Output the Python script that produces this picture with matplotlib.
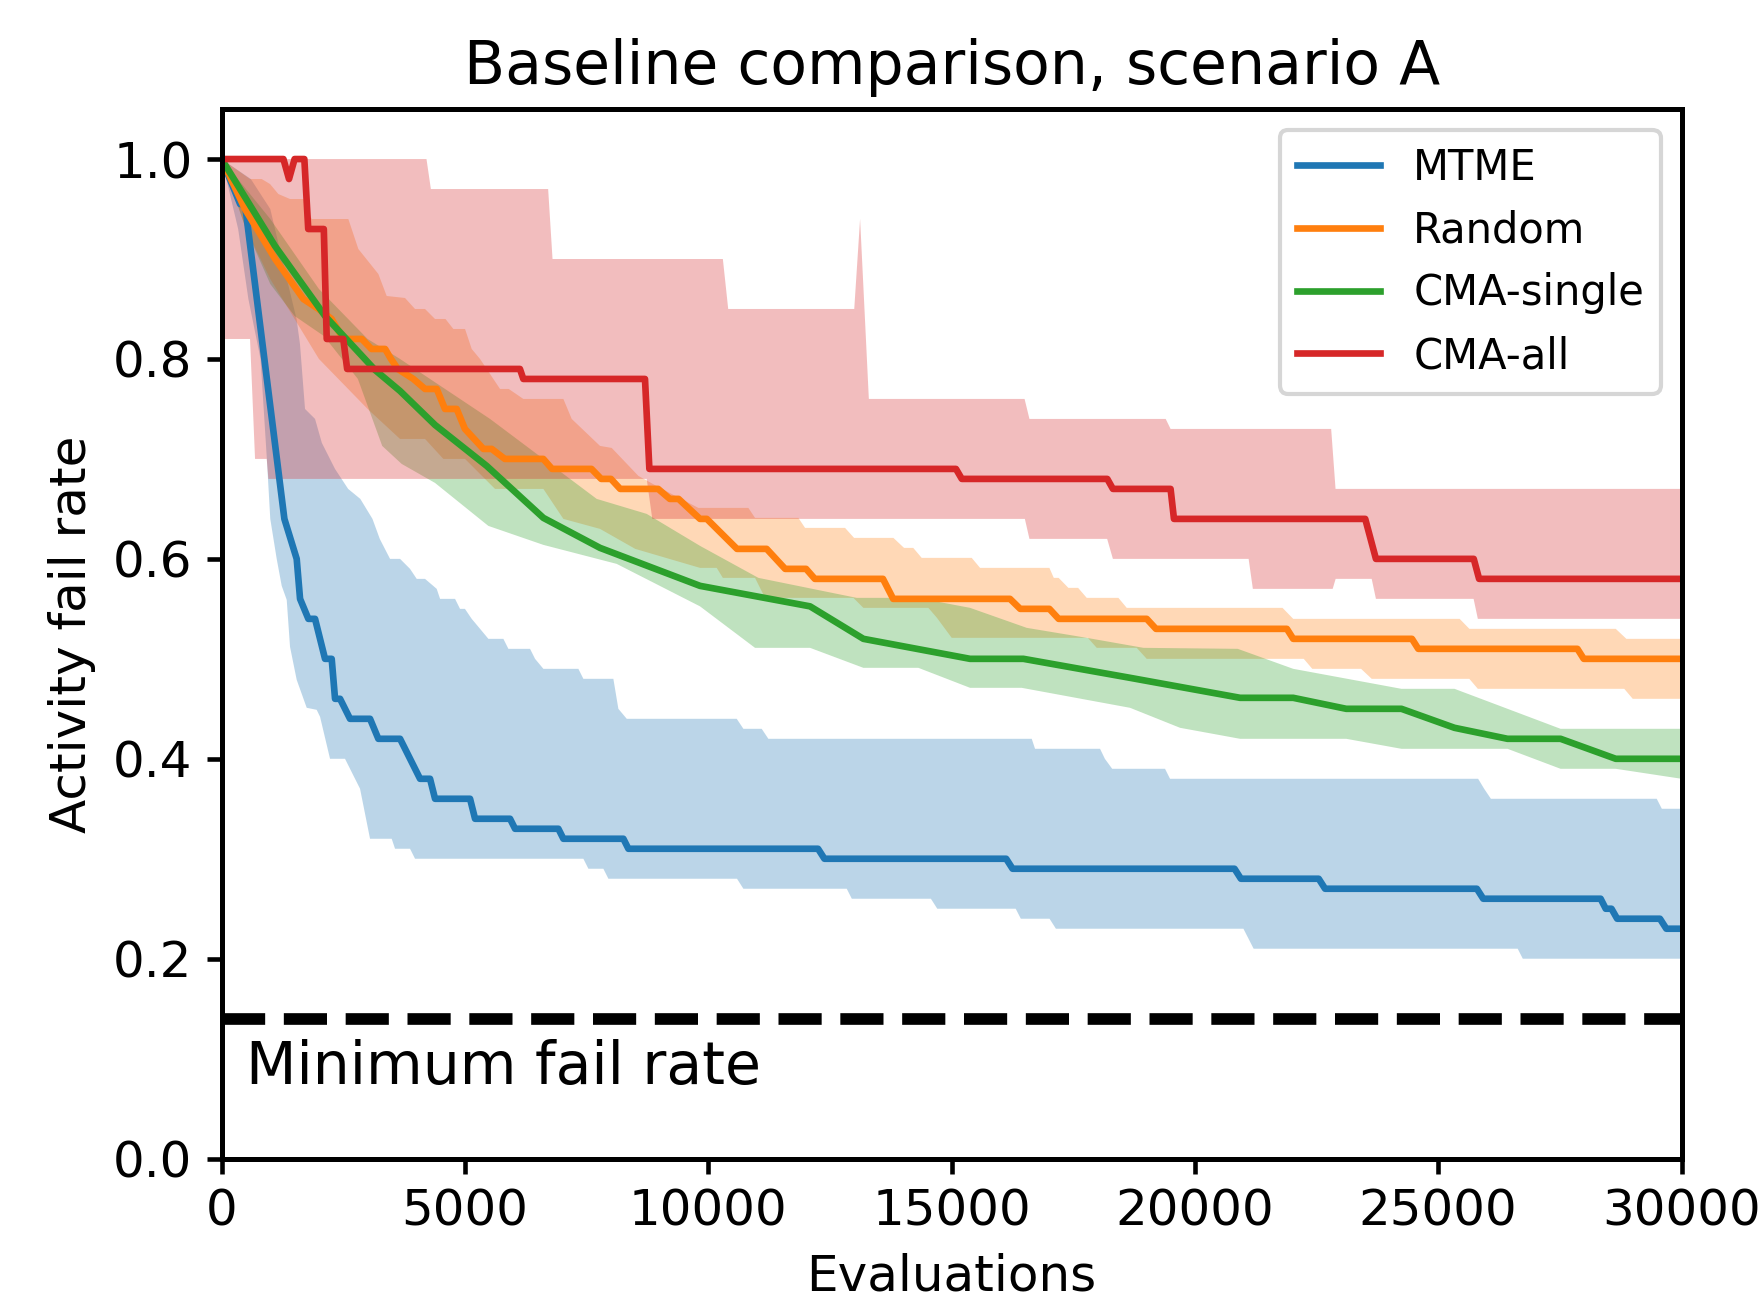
import numpy as np
import matplotlib
matplotlib.use("Agg")
import matplotlib.pyplot as plt

# ---------------- data (evaluations, fail rate) ----------------
mtme_mean = [(0, 1.0), (380, 0.955), (480, 0.955), (1290, 0.64), (1543, 0.60), (1612, 0.56),
             (1783, 0.54), (1920, 0.54), (2125, 0.50), (2262, 0.50), (2331, 0.46), (2434, 0.46),
             (2639, 0.44), (3050, 0.44), (3221, 0.42), (3667, 0.42), (4078, 0.38), (4283, 0.38),
             (4386, 0.36), (5105, 0.36), (5208, 0.34), (5927, 0.34), (6030, 0.33), (6920, 0.33),
             (7023, 0.32), (8256, 0.32), (8359, 0.31), (12256, 0.31), (12387, 0.30), (16122, 0.30),
             (16253, 0.29), (20814, 0.29), (20945, 0.28), (22544, 0.28), (22675, 0.27), (25794, 0.27),
             (25925, 0.26), (28337, 0.26), (28442, 0.25), (28560, 0.25), (28677, 0.24), (29556, 0.24),
             (29687, 0.23), (30000, 0.23)]
mtme_upper = [(0, 1.0), (600, 0.98), (1000, 0.95), (1340, 0.88), (1540, 0.84), (1610, 0.815),
              (1714, 0.75), (1920, 0.74), (2060, 0.716), (2330, 0.69), (2600, 0.67), (2850, 0.66),
              (3100, 0.64), (3250, 0.62), (3461, 0.60), (3667, 0.60), (3872, 0.59), (4009, 0.58),
              (4180, 0.58), (4420, 0.57), (4489, 0.56), (4797, 0.56), (4899, 0.55), (5000, 0.55),
              (5139, 0.54), (5311, 0.53), (5482, 0.52), (5790, 0.52), (5893, 0.51), (6338, 0.51),
              (6441, 0.50), (6612, 0.49), (7331, 0.49), (7434, 0.48), (8050, 0.48), (8153, 0.45),
              (8325, 0.44), (10585, 0.44), (10722, 0.43), (11098, 0.43), (11235, 0.42), (16647, 0.42),
              (16715, 0.41), (18051, 0.41), (18150, 0.40), (18300, 0.39), (19386, 0.39), (19489, 0.38),
              (25820, 0.38), (25944, 0.37), (26082, 0.36), (29490, 0.36), (29595, 0.35), (30000, 0.35)]
mtme_lower = [(0, 1.0), (340, 0.93), (550, 0.86), (800, 0.80), (930, 0.70), (1000, 0.64),
              (1132, 0.60), (1235, 0.573), (1338, 0.559), (1406, 0.512), (1543, 0.479), (1749, 0.451),
              (1954, 0.449), (2023, 0.442), (2228, 0.40), (2536, 0.40), (2845, 0.37), (3050, 0.32),
              (3495, 0.32), (3564, 0.31), (3872, 0.31), (3975, 0.30), (7434, 0.30), (7537, 0.29),
              (7845, 0.29), (7948, 0.28), (10591, 0.28), (10722, 0.27), (12846, 0.27), (12950, 0.26),
              (14575, 0.26), (14706, 0.25), (16318, 0.25), (16423, 0.24), (17013, 0.24), (17144, 0.23),
              (20997, 0.23), (21207, 0.21), (26633, 0.21), (26738, 0.20), (30000, 0.20)]

random_mean = [(0, 1.0), (480, 0.95), (1100, 0.90), (1680, 0.86), (1990, 0.85), (2260, 0.84),
               (2500, 0.82), (2880, 0.82), (3080, 0.81), (3360, 0.81), (3480, 0.80), (3620, 0.79),
               (3940, 0.78), (4180, 0.77), (4420, 0.77), (4590, 0.75), (4830, 0.75), (5000, 0.73),
               (5380, 0.71), (5550, 0.71), (5820, 0.70), (6610, 0.70), (6790, 0.69), (7600, 0.69),
               (7800, 0.68), (8000, 0.68), (8190, 0.67), (8970, 0.67), (9210, 0.66), (9390, 0.66),
               (9830, 0.64), (9970, 0.64), (10590, 0.61), (11200, 0.61), (11580, 0.59), (12010, 0.59),
               (12190, 0.58), (13590, 0.58), (13800, 0.56), (16200, 0.56), (16410, 0.55), (17010, 0.55),
               (17200, 0.54), (19010, 0.54), (19200, 0.53), (21890, 0.53), (22020, 0.52), (24460, 0.52),
               (24590, 0.51), (27860, 0.51), (27990, 0.50), (30000, 0.50)]
random_upper = [(0, 1.0), (584, 0.98), (824, 0.98), (995, 0.975), (1166, 0.965), (1406, 0.96),
                (1680, 0.96), (1851, 0.94), (2604, 0.94), (2810, 0.91), (3221, 0.885), (3392, 0.863),
                (3769, 0.861), (3974, 0.85), (4180, 0.85), (4385, 0.84), (4600, 0.84), (4762, 0.83),
                (5002, 0.83), (5139, 0.81), (5310, 0.80), (5721, 0.77), (5900, 0.77), (6200, 0.76),
                (7023, 0.76), (7194, 0.74), (7776, 0.713), (8016, 0.711), (8564, 0.683), (9009, 0.671),
                (9797, 0.651), (10824, 0.651), (10961, 0.641), (11852, 0.641), (11989, 0.631),
                (12811, 0.631), (12996, 0.621), (13804, 0.621), (14023, 0.611), (14212, 0.611),
                (14386, 0.601), (15414, 0.601), (15585, 0.591), (17010, 0.591), (17100, 0.581),
                (17200, 0.581), (17400, 0.571), (17600, 0.571), (17777, 0.561), (18428, 0.561),
                (18599, 0.551), (21800, 0.551), (22020, 0.54), (25440, 0.54), (25640, 0.53),
                (28648, 0.53), (28866, 0.52), (30000, 0.52)]
random_lower = [(0, 1.0), (500, 0.93), (1000, 0.88), (1500, 0.84), (2000, 0.80), (2500, 0.775),
                (3000, 0.75), (3666, 0.72), (4180, 0.72), (4557, 0.70), (5002, 0.70), (5618, 0.67),
                (6612, 0.67), (7023, 0.64), (7776, 0.63), (8500, 0.61), (9200, 0.60), (9831, 0.591),
                (10174, 0.591), (10300, 0.581), (10961, 0.581), (11167, 0.561), (12982, 0.561),
                (13188, 0.551), (14523, 0.551), (14700, 0.541), (15003, 0.521), (17800, 0.521),
                (17983, 0.511), (18805, 0.511), (19010, 0.50), (22237, 0.50), (22412, 0.49),
                (23415, 0.49), (23633, 0.48), (25639, 0.48), (25814, 0.47), (28823, 0.47),
                (28997, 0.46), (30000, 0.46)]

single_mean = [(0, 1.0), (1097, 0.913), (2125, 0.843), (3152, 0.789), (3666, 0.768), (4385, 0.734),
               (5447, 0.693), (6612, 0.641), (7776, 0.611), (9831, 0.573), (12092, 0.5525),
               (13188, 0.52), (15380, 0.50), (16476, 0.50), (18668, 0.481), (20929, 0.461),
               (22020, 0.461), (23110, 0.45), (24244, 0.45), (25334, 0.431), (26424, 0.42),
               (27514, 0.42), (28648, 0.40), (30000, 0.40)]
single_upper = [(0, 1.0), (1000, 0.94), (2000, 0.87), (3000, 0.82), (3666, 0.80), (5516, 0.74),
                (6612, 0.70), (7707, 0.66), (8735, 0.645), (9831, 0.613), (11030, 0.581),
                (13050, 0.561), (14387, 0.561), (14620, 0.558), (15380, 0.551), (16544, 0.531),
                (17777, 0.521), (18942, 0.511), (20880, 0.51), (22020, 0.49), (24244, 0.47),
                (25334, 0.47), (27514, 0.43), (30000, 0.43)]
single_lower = [(0, 1.0), (500, 0.93), (1000, 0.875), (1500, 0.843), (2100, 0.823), (2800, 0.78),
                (3300, 0.713), (3700, 0.695), (4385, 0.676), (5481, 0.633), (6612, 0.614),
                (8118, 0.595), (9831, 0.5525), (10961, 0.511), (12092, 0.511), (13188, 0.491),
                (14318, 0.491), (15380, 0.471), (16441, 0.471), (18668, 0.451), (19695, 0.431),
                (20929, 0.42), (23110, 0.42), (24244, 0.41), (26424, 0.41), (27514, 0.39),
                (28648, 0.39), (30000, 0.38)]

all_mean = [(0, 1.0), (1270, 1.0), (1385, 0.98), (1500, 1.0), (1700, 1.0), (1780, 0.93),
            (2100, 0.93), (2160, 0.82), (2500, 0.82), (2580, 0.79), (6130, 0.79), (6200, 0.78),
            (8700, 0.78), (8790, 0.69), (15090, 0.69), (15210, 0.68), (18200, 0.68), (18315, 0.67),
            (19500, 0.67), (19570, 0.64), (23500, 0.64), (23720, 0.60), (25730, 0.60),
            (25840, 0.58), (30000, 0.58)]
all_upper = [(0, 1.0), (4210, 1.0), (4300, 0.97), (6710, 0.97), (6800, 0.90), (10300, 0.90),
             (10410, 0.85), (13000, 0.85), (13120, 0.94), (13300, 0.76), (16500, 0.76),
             (16600, 0.74), (19400, 0.74), (19500, 0.73), (22800, 0.73), (22890, 0.67), (30000, 0.67)]
all_lower = [(0, 0.82), (584, 0.82), (687, 0.70), (927, 0.70), (961, 0.68), (8735, 0.68),
             (8850, 0.64), (16506, 0.64), (16600, 0.62), (18197, 0.62), (18315, 0.60),
             (21104, 0.60), (21191, 0.57), (22831, 0.57), (22892, 0.58), (23633, 0.58),
             (23720, 0.56), (25727, 0.56), (25814, 0.54), (30000, 0.54)]

labels = ["MTME", "Random", "CMA-single", "CMA-all"]
colors = ["#1f77b4", "#ff7f0e", "#2ca02c", "#d62728"]
series = [(mtme_mean, mtme_upper, mtme_lower),
          (random_mean, random_upper, random_lower),
          (single_mean, single_upper, single_lower),
          (all_mean, all_upper, all_lower)]
min_fail_rate = 0.14

# ---------------- plot ----------------
plt.rcParams["font.family"] = "DejaVu Sans"
plt.rcParams["font.size"] = 12
plt.rcParams["axes.linewidth"] = 1.2
plt.rcParams["xtick.major.width"] = 1.1
plt.rcParams["ytick.major.width"] = 1.1

fig = plt.figure(figsize=(1763 / 300, 1303 / 300), dpi=300)
ax = fig.add_axes([0.1257, 0.1108, 0.9538 - 0.1257, 0.9163 - 0.1108])

for (mean, up, lo), lab, col in zip(series, labels, colors):
    mx, my = zip(*mean)
    ux, uy = zip(*up)
    lx, ly = zip(*lo)
    ax.plot(mx, my, color=col, lw=1.6, label=lab)
    px = np.concatenate([ux, lx[::-1]])
    py = np.concatenate([uy, ly[::-1]])
    ax.fill(px, py, color=col, alpha=0.3, lw=0)

ax.axhline(min_fail_rate, color="black", ls="--", lw=2.8)
ax.text(500, 0.075, "Minimum fail rate", fontsize=14, va="baseline", ha="left")

ax.set_xlim(0, 30000)
ax.set_ylim(0, 1.05)
ax.set_xticks([0, 5000, 10000, 15000, 20000, 25000, 30000])
ax.set_yticks([0.0, 0.2, 0.4, 0.6, 0.8, 1.0])
ax.set_xlabel("Evaluations")
ax.set_ylabel("Activity fail rate")
ax.set_title("Baseline comparison, scenario A", fontsize=14.4)
ax.legend(loc="upper right", fontsize=10)

fig.savefig("out.png", dpi=300)
